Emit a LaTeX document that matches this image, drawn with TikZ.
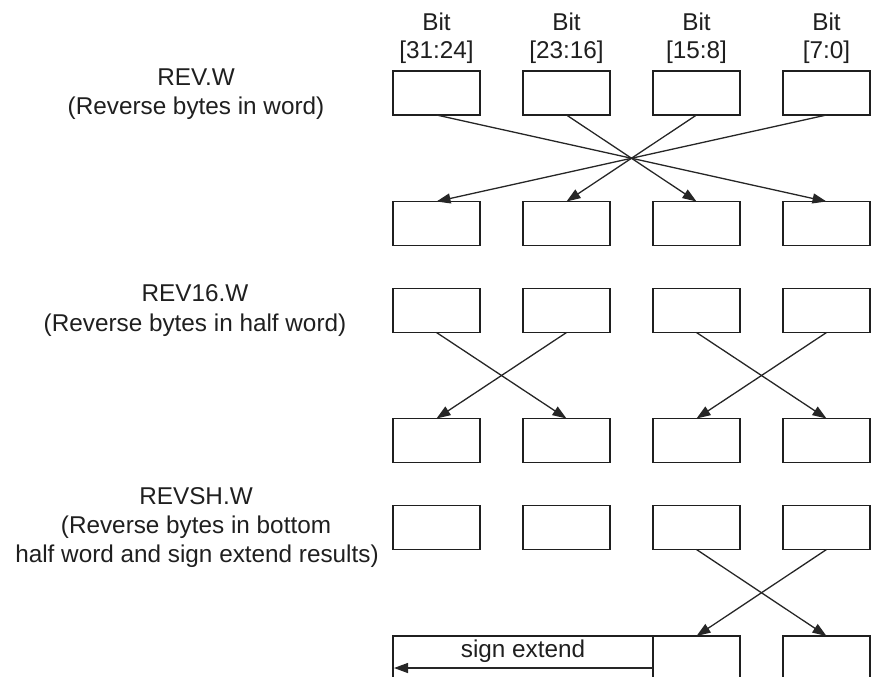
\documentclass[tikz,border=0pt]{standalone}
\usepackage{fontspec}
\setmainfont{Liberation Sans}
\usetikzlibrary{arrows.meta}
\begin{document}
\begin{tikzpicture}[x=1pt,y=-1pt,
  bx/.style={draw=black!88, line width=1.7pt, minimum width=87pt, minimum height=44pt, inner sep=0pt, outer sep=0pt},
  arr/.style={draw=black!85, line width=1.3pt, -{Triangle[length=14pt,width=10pt]}},
  lbl/.style={font=\fontsize{24.3}{29}\selectfont, text=black!88, inner sep=0pt, anchor=base},
]
\useasboundingbox (0,0) rectangle (878,677);
\clip (0,0) rectangle (878,677);

% bit labels
\node[lbl] (h1a) at (436.5,30.5) {Bit};
\node[lbl] (h2a) at (566.5,30.5) {Bit};
\node[lbl] (h3a) at (696.5,30.5) {Bit};
\node[lbl] (h4a) at (826.5,30.5) {Bit};
\node[lbl] (h1b) at (436.5,59) {[31:24]};
\node[lbl] (h2b) at (566.5,59) {[23:16]};
\node[lbl] (h3b) at (696.5,59) {[15:8]};
\node[lbl] (h4b) at (826.5,59) {[7:0]};

% left labels
\node[lbl] (t1a) at (196,85) {REV.W};
\node[lbl] (t1b) at (196,114) {(Reverse bytes in word)};
\node[lbl] (t2a) at (195,301.5) {REV16.W};
\node[lbl] (t2b) at (195,331) {(Reverse bytes in half word)};
\node[lbl] (t3a) at (196,504.5) {REVSH.W};
\node[lbl] (t3b) at (196,533.5) {(Reverse bytes in bottom};
\node[lbl] (t3c) at (197,562) {half word and sign extend results)};

% boxes
\foreach \c/\x in {1/436.5,2/566.5,3/696.5,4/826.5}{
  \node[bx] (r1\c) at (\x,93) {};
  \node[bx] (r2\c) at (\x,223.5) {};
  \node[bx] (r3\c) at (\x,310.5) {};
  \node[bx] (r4\c) at (\x,440.5) {};
  \node[bx] (r5\c) at (\x,527.5) {};
}
\node[bx] (r63) at (696.5,658) {};
\node[bx] (r64) at (826.5,658) {};
\node[bx, minimum width=260pt] (ext) at (523,658) {};

% REV.W arrows
\draw[arr] (r11.south) -- (r24.north);
\draw[arr] (r12.south) -- (r23.north);
\draw[arr] (r13.south) -- (r22.north);
\draw[arr] (r14.south) -- (r21.north);

% REV16.W arrows
\draw[arr] (r31.south) -- (r42.north);
\draw[arr] (r32.south) -- (r41.north);
\draw[arr] (r33.south) -- (r44.north);
\draw[arr] (r34.south) -- (r43.north);

% REVSH.W arrows
\draw[arr] (r53.south) -- (r64.north);
\draw[arr] (r54.south) -- (r63.north);

% sign extend
\node[lbl] (se) at (523,657) {sign extend};
\coordinate (sa) at (653,668);
\coordinate (sb) at (394,668);
\draw[arr] (sa) -- (sb);
\end{tikzpicture}
\end{document}
